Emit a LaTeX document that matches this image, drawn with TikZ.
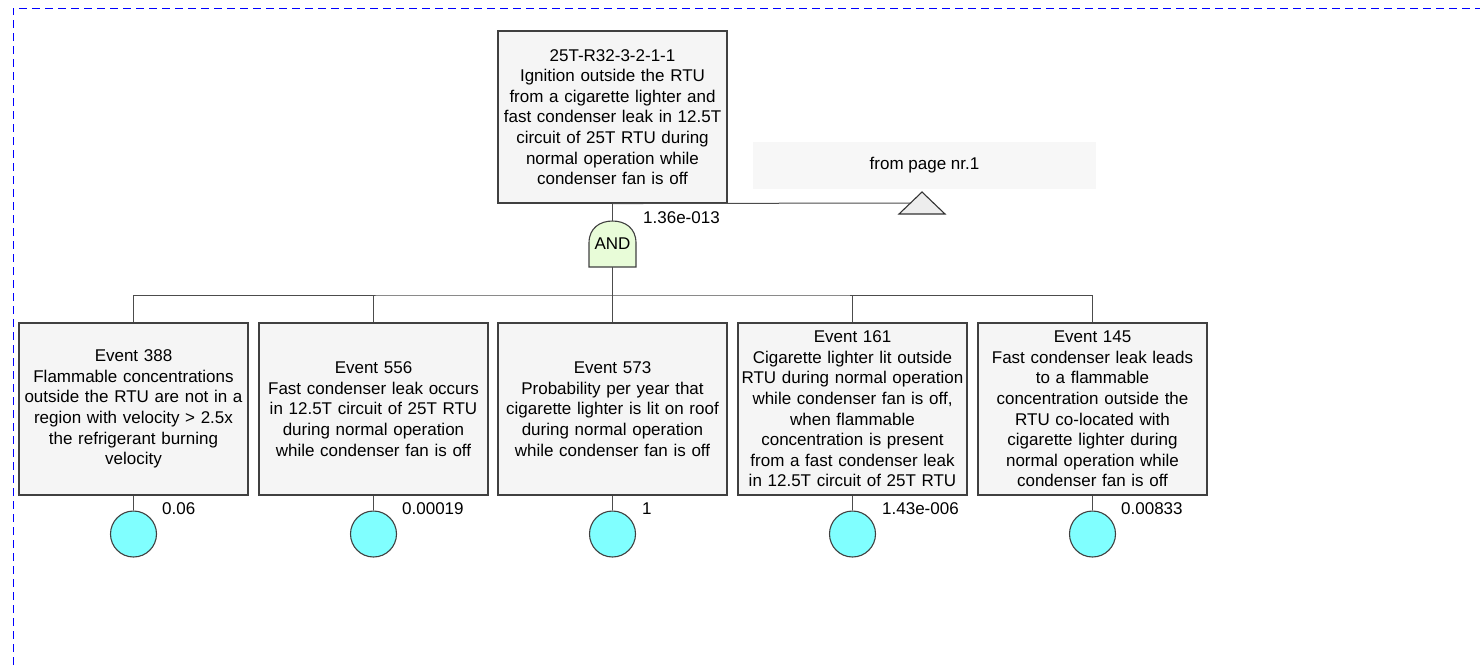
\documentclass[tikz,border=0pt]{standalone}
\usepackage{fontspec}
\setmainfont{Liberation Sans}
\usetikzlibrary{positioning,backgrounds}

\definecolor{andfill}{HTML}{E8FCD8}
\definecolor{basicfill}{HTML}{80FFFF}

\begin{document}
\begin{tikzpicture}[
  x=1pt, y=-1pt,
  font=\fontsize{17}{20.6}\selectfont,
  box/.style={draw=black!75, line width=1.1pt, fill=black!4, align=center,
              text width=225pt, inner sep=2pt, minimum height=172pt},
  basic/.style={circle, draw=black!75, line width=1.1pt, fill=basicfill,
                minimum size=46pt, inner sep=0pt},
  gate/.style={draw=black!75, line width=1.1pt, fill=andfill},
  tri/.style={draw=black!80, line width=1.1pt, fill=black!7},
  ln/.style={draw=black!70, line width=1pt},
  frm/.style={draw=blue, line width=1pt, dash pattern=on 8pt off 5pt},
  prob/.style={anchor=west, inner sep=0pt},
]
\useasboundingbox (0,0) rectangle (1480,665);
\draw[frm] (13,665) -- (13,8) -- (1480,8);

\node[box] (top) at (612.5,117)
     {25T-R32-3-2-1-1\\ Ignition outside the RTU\\ from a cigarette lighter and\\
      fast condenser leak in 12.5T\\ circuit of 25T RTU during\\
      normal operation while\\ condenser fan is off};
\node[prob] (ptop) at (643,218) {1.36e-013};

\node[fill=black!3, minimum width=343pt, minimum height=47pt] (pg)
     at (924.5,165.5) {from page nr.1};
\draw[tri] (899,214) -- (922,192) -- (945,214) -- cycle;
\coordinate (xfer) at (911,203);

\draw[gate] (589,267) -- (589,243) .. controls (589,228) and (600,221) ..
      (612.5,221) .. controls (625,221) and (636,228) .. (636,243) --
      (636,267) -- cycle;
\node[inner sep=0pt, minimum width=47pt, minimum height=46pt] (and)
     at (612.5,244) {AND};

\node[box] (e388) at (133.5,409)
     {Event 388\\ Flammable concentrations\\ outside the RTU are not in a\\
      region with velocity > 2.5x\\ the refrigerant burning\\ velocity};
\node[box] (e556) at (373.5,409)
     {Event 556\\ Fast condenser leak occurs\\ in 12.5T circuit of 25T RTU\\
      during normal operation\\ while condenser fan is off};
\node[box] (e573) at (612.5,409)
     {Event 573\\ Probability per year that\\ cigarette lighter is lit on roof\\
      during normal operation\\ while condenser fan is off};
\node[box] (e161) at (852.5,409)
     {Event 161\\ Cigarette lighter lit outside\\ RTU during normal operation\\
      while condenser fan is off,\\ when flammable\\ concentration is present\\
      from a fast condenser leak\\ in 12.5T circuit of 25T RTU};
\node[box] (e145) at (1092.5,409)
     {Event 145\\ Fast condenser leak leads\\ to a flammable\\
      concentration outside the\\ RTU co-located with\\ cigarette lighter during\\
      normal operation while\\ condenser fan is off};

\node[basic] (b388) at (133.5,534) {};
\node[basic] (b556) at (373.5,534) {};
\node[basic] (b573) at (612.5,534) {};
\node[basic] (b161) at (852.5,534) {};
\node[basic] (b145) at (1092.5,534) {};

\node[prob] (p388) at (162,509) {0.06};
\node[prob] (p556) at (402,509) {0.00019};
\node[prob] (p573) at (642,509) {1};
\node[prob] (p161) at (882,509) {1.43e-006};
\node[prob] (p145) at (1121,509) {0.00833};

\draw[ln] (top.south) -- (and.north);
\draw[ln] (top.south) -- (xfer);
\coordinate (bus) at (612.5,295);
\draw[ln] (and.south) -- (bus);
\draw[ln] (e388.north) |- (bus) -| (e145.north);
\draw[ln] (e556.north) -- (e556.north |- bus);
\draw[ln] (e573.north) -- (bus);
\draw[ln] (e161.north) -- (e161.north |- bus);

\draw[ln] (e388.south) -- (b388.north);
\draw[ln] (e556.south) -- (b556.north);
\draw[ln] (e573.south) -- (b573.north);
\draw[ln] (e161.south) -- (b161.north);
\draw[ln] (e145.south) -- (b145.north);

\end{tikzpicture}
\end{document}
